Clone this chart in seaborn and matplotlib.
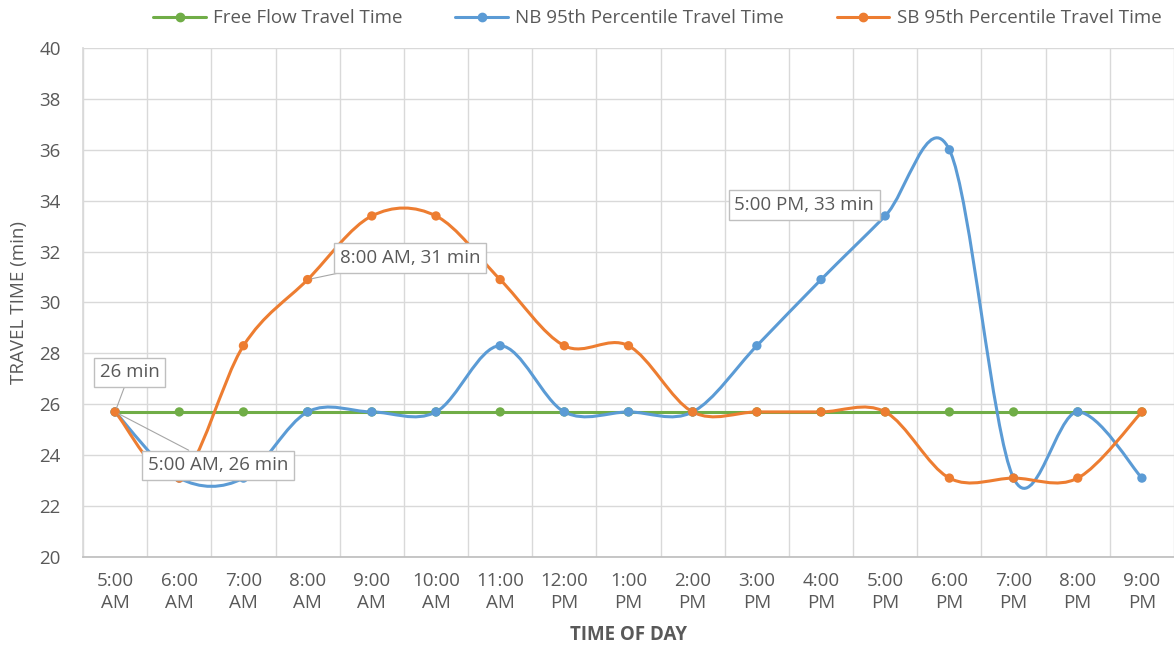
import matplotlib
matplotlib.use("Agg")
import matplotlib.pyplot as plt
from matplotlib.path import Path
from matplotlib.patches import PathPatch
from matplotlib.lines import Line2D
import seaborn as sns
import pandas as pd

### data
times = ['5:00\nAM', '6:00\nAM', '7:00\nAM', '8:00\nAM', '9:00\nAM', '10:00\nAM', '11:00\nAM',
         '12:00\nPM', '1:00\nPM', '2:00\nPM', '3:00\nPM', '4:00\nPM', '5:00\nPM', '6:00\nPM',
         '7:00\nPM', '8:00\nPM', '9:00\nPM']
free_flow = [25.7] * 17
nb_95 = [25.7, 23.1, 23.1, 25.7, 25.7, 25.7, 28.3, 25.7, 25.7, 25.7, 28.3, 30.9, 33.4, 36.0, 23.1, 25.7, 23.1]
sb_95 = [25.7, 23.1, 28.3, 30.9, 33.4, 33.4, 30.9, 28.3, 28.3, 25.7, 25.7, 25.7, 25.7, 23.1, 23.1, 23.1, 25.7]

series_names = ['Free Flow Travel Time', 'NB 95th Percentile Travel Time', 'SB 95th Percentile Travel Time']
colors = ['#70AD47', '#5B9BD5', '#ED7D31']

### styling
sns.set_theme(style='white')
plt.rcParams['font.family'] = ['Open Sans', 'DejaVu Sans']
text_grey = '#595959'
grid_grey = '#D9D9D9'
fs = 13.5


def smooth_path(xs, ys):
    '''excel style smoothed line: cubic bezier through every point'''
    pts = list(zip(xs, ys))
    n = len(pts)
    verts = [pts[0]]
    codes = [Path.MOVETO]
    for i in range(n - 1):
        p_prev = pts[i - 1] if i > 0 else pts[i]
        p0 = pts[i]
        p1 = pts[i + 1]
        p_next = pts[i + 2] if i + 2 < n else pts[i + 1]
        c1 = (p0[0] + (p1[0] - p_prev[0]) / 6, p0[1] + (p1[1] - p_prev[1]) / 6)
        c2 = (p1[0] - (p_next[0] - p0[0]) / 6, p1[1] - (p_next[1] - p0[1]) / 6)
        verts += [c1, c2, p1]
        codes += [Path.CURVE4] * 3
    return Path(verts, codes)


x = list(range(len(times)))
df = pd.DataFrame({'x': x * 3,
                   'value': free_flow + nb_95 + sb_95,
                   'series': [series_names[0]] * 17 + [series_names[1]] * 17 + [series_names[2]] * 17})

fig = plt.figure(figsize=(11.74, 6.46), dpi=100)
ax = fig.add_axes([0.0707, 0.1378, 0.9293, 0.7879])

# lines
for name, color in zip(series_names, colors):
    sub = df[df['series'] == name]
    if name == series_names[0]:
        ax.plot(sub['x'], sub['value'], color=color, lw=2.2, zorder=3)
    else:
        ax.add_patch(PathPatch(smooth_path(sub['x'].tolist(), sub['value'].tolist()),
                               fill=False, edgecolor=color, lw=2.2, zorder=3))

# markers
sns.scatterplot(data=df, x='x', y='value', hue='series', palette=colors, s=45,
                edgecolor='none', legend=False, ax=ax, zorder=4)

# axes
ax.set_xlim(-0.5, 16.5)
ax.set_ylim(20, 40)
ax.set_yticks(range(20, 41, 2))
ax.set_xticks(x)
ax.set_xticklabels(times, fontsize=fs, color=text_grey, linespacing=1.25)
ax.tick_params(axis='y', labelsize=fs, labelcolor=text_grey, length=0, pad=16)
ax.tick_params(axis='x', length=0, pad=11)
ax.set_xticks([i - 0.5 for i in range(18)], minor=True)
ax.grid(False)
ax.grid(True, which='minor', axis='x', color=grid_grey, lw=1)
ax.grid(True, which='major', axis='y', color=grid_grey, lw=1)
ax.set_axisbelow(True)
for side in ['top', 'right']:
    ax.spines[side].set_visible(False)
ax.spines['left'].set_color(grid_grey)
ax.spines['bottom'].set_color('#BFBFBF')
ax.tick_params(axis='x', which='minor', length=5, color='#BFBFBF', direction='out')

ax.set_xlabel('TIME OF DAY', fontsize=fs, color=text_grey, fontweight='bold')
ax.xaxis.set_label_coords(0.5, -0.133)
ax.set_ylabel('TRAVEL TIME (min)', fontsize=fs, color=text_grey)
ax.yaxis.set_label_coords(-0.05, 0.5)

# data callouts
box = dict(boxstyle='square,pad=0.3', fc='white', ec='#BFBFBF', lw=1)
arrow = dict(arrowstyle='-', color='#A6A6A6', lw=0.8, shrinkA=0, shrinkB=3)
callouts = [('26 min', 0, free_flow[0], 0.23, 27.25),
            ('5:00 AM, 26 min', 0, sb_95[0], 1.6, 23.6),
            ('8:00 AM, 31 min', 3, sb_95[3], 4.6, 31.75),
            ('5:00 PM, 33 min', 12, nb_95[12], 10.74, 33.83)]
for label, xi, yi, tx, ty in callouts:
    ax.annotate(label, xy=(xi, yi), xytext=(tx, ty), ha='center', va='center',
                fontsize=fs, color=text_grey, bbox=box, arrowprops=arrow, zorder=6)

# legend
handles = [Line2D([0], [0], color=c, lw=2.2, marker='o', markersize=6) for c in colors]
fig.legend(handles, series_names, loc='upper center', bbox_to_anchor=(0.56, 1.012), ncol=3,
           frameon=False, fontsize=fs, labelcolor=text_grey, handlelength=2.8,
           columnspacing=2.8, handletextpad=0.4)

fig.savefig('out.png', dpi=100)
